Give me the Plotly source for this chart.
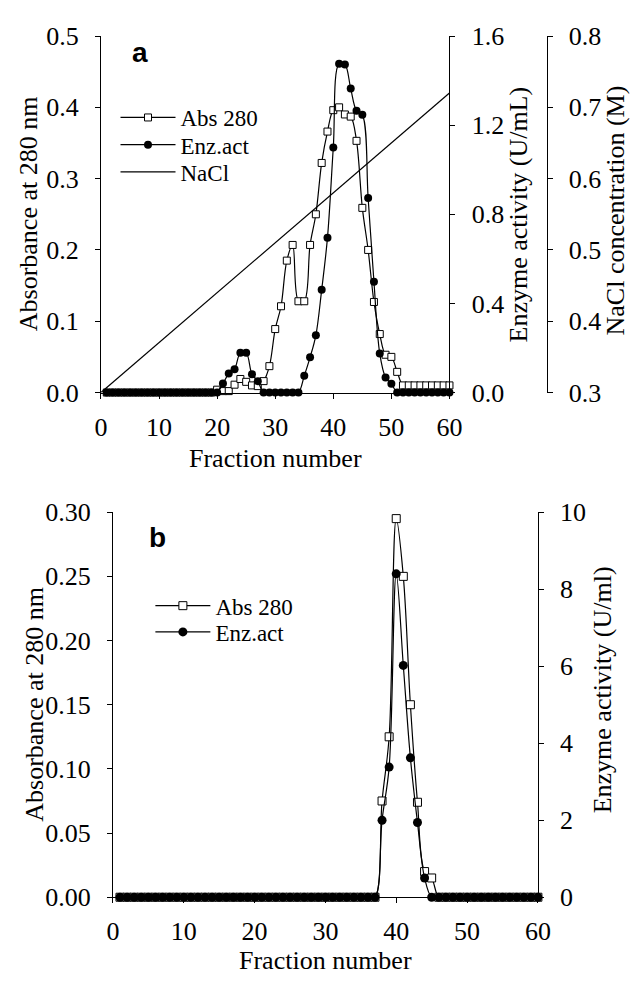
import plotly.graph_objects as go

# ---------------- data ----------------
fractions = list(range(1, 61))

# Panel a
abs_a = [0.0] * 19 + [
    0.004, 0.002, 0.002, 0.011, 0.019, 0.015, 0.010, 0.009, 0.016, 0.037,   # 20-29
    0.089, 0.121, 0.185, 0.207, 0.128, 0.128, 0.207, 0.250, 0.322, 0.366,   # 30-39
    0.396, 0.400, 0.390, 0.387, 0.353, 0.259, 0.200, 0.127, 0.082, 0.053,   # 40-49
    0.050, 0.029,                                                          # 50-51
] + [0.010] * 9                                                            # 52-60

enz_a = [0.0] * 20 + [
    0.040, 0.085, 0.105, 0.178, 0.178, 0.082, 0.051,                       # 21-27
    0.0, 0.0, 0.0, 0.0, 0.0, 0.0, 0.0,                                     # 28-34
    0.075, 0.158, 0.257, 0.461, 0.695, 1.100, 1.476, 1.472, 1.364, 1.265,  # 35-44
    1.247, 0.873, 0.497, 0.175, 0.068, 0.039,                              # 45-50
] + [0.0] * 10                                                             # 51-60

nacl_x = [0, 60]
nacl_y = [0.30, 0.72]

# Panel b
abs_b = [0.0] * 37 + [0.075, 0.125, 0.295, 0.250, 0.150, 0.074, 0.020, 0.015] + [0.0] * 15
enz_b = [0.0] * 37 + [2.00, 3.38, 8.40, 6.02, 3.62, 1.94, 0.50] + [0.0] * 16

x_ticks = [0, 10, 20, 30, 40, 50, 60]

# ---------------- styling ----------------
W, H = 641, 986
SERIF = "Liberation Serif"
SANS = "Liberation Sans"
TICK_FONT = dict(family=SERIF, size=26, color="black")
TITLE_SIZE = 26
LEG_SIZE = 23
LINE = dict(color="black", width=1.2, shape="spline")


def px_x(v):
    return v / W


def px_y(v):
    return 1 - v / H


fig = go.Figure()

# Panel a traces
fig.add_trace(go.Scatter(
    x=fractions, y=abs_a, name="Abs 280", mode="lines+markers",
    line=LINE, cliponaxis=False,
    marker=dict(symbol="square", size=7, color="white", line=dict(color="black", width=1)),
    xaxis="x", yaxis="y", legend="legend"))
fig.add_trace(go.Scatter(
    x=fractions, y=enz_a, name="Enz.act", mode="lines+markers",
    line=LINE, cliponaxis=False,
    marker=dict(symbol="circle", size=8, color="black"),
    xaxis="x", yaxis="y2", legend="legend2"))
fig.add_trace(go.Scatter(
    x=nacl_x, y=nacl_y, name="NaCl", mode="lines",
    line=dict(color="black", width=1.2), cliponaxis=False,
    xaxis="x", yaxis="y3", legend="legend3"))

# Panel b traces
fig.add_trace(go.Scatter(
    x=fractions, y=abs_b, name="Abs 280", mode="lines+markers",
    line=LINE, cliponaxis=False,
    marker=dict(symbol="square", size=8, color="white", line=dict(color="black", width=1)),
    xaxis="x2", yaxis="y4", legend="legend4"))
fig.add_trace(go.Scatter(
    x=fractions, y=enz_b, name="Enz.act", mode="lines+markers",
    line=LINE, cliponaxis=False,
    marker=dict(symbol="circle", size=9, color="black"),
    xaxis="x2", yaxis="y5", legend="legend5"))

axis_common = dict(showgrid=False, zeroline=False, showline=True, linecolor="black",
                   linewidth=1, ticks="outside", ticklen=5, tickwidth=1,
                   tickcolor="black", tickfont=TICK_FONT)
xaxis_common = dict(axis_common, ticklabelstandoff=6)
yaxis_common = dict(axis_common, ticklabelstandoff=11)

LEG_W = 55


def leg(line_start_px, row_px):
    # legend symbol line starts 5px inside the legend box; row centre is top + 21.5
    return dict(x=px_x(line_start_px - 5), y=px_y(row_px - 21.5),
                xanchor="left", yanchor="top",
                bgcolor="rgba(0,0,0,0)", borderwidth=0,
                font=dict(family=SERIF, size=LEG_SIZE, color="black"),
                itemwidth=LEG_W)


fig.update_layout(
    width=W, height=H,
    margin=dict(l=0, r=0, t=0, b=0),
    paper_bgcolor="white", plot_bgcolor="white",
    font=dict(family=SERIF, color="black"),
    showlegend=True,
    xaxis=dict(domain=[px_x(97), px_x(456.7)], range=[0, 60], tickvals=x_ticks,
               anchor="y", **xaxis_common),
    yaxis=dict(domain=[px_y(390), px_y(22.7)], range=[0, 0.5], dtick=0.1,
               tickformat=".1f", anchor="x", **yaxis_common),
    yaxis2=dict(overlaying="y", side="right", anchor="x", range=[0, 1.6], dtick=0.4,
                tickformat=".1f", **yaxis_common),
    yaxis3=dict(overlaying="y", side="right", anchor="free", position=px_x(557),
                range=[0.3, 0.8], dtick=0.1, tickformat=".1f", **yaxis_common),
    xaxis2=dict(domain=[px_x(109.3), px_x(548)], range=[0, 60], tickvals=x_ticks,
                anchor="y4", **xaxis_common),
    yaxis4=dict(domain=[px_y(910), px_y(513.3)], range=[0, 0.30], dtick=0.05,
                tickformat=".2f", anchor="x2", **yaxis_common),
    yaxis5=dict(overlaying="y4", side="right", anchor="x2", range=[0, 10], dtick=2,
                **yaxis_common),
    legend=leg(117, 106),
    legend2=leg(117, 134),
    legend3=leg(117, 162),
    legend4=leg(153, 609),
    legend5=leg(153, 636),
)

annos = [
    ("Absorbance at 280 nm", 23, 206, -90, SERIF, TITLE_SIZE),
    ("Enzyme activity (U/mL)", 528, 207, -90, SERIF, TITLE_SIZE),
    ("NaCl concentration (M)", 628, 202, -90, SERIF, TITLE_SIZE),
    ("Fraction number", 277, 458, 0, SERIF, TITLE_SIZE),
    ("Absorbance at 280 nm", 27.5, 711, -90, SERIF, TITLE_SIZE),
    ("Enzyme activity (U/ml)", 615, 696, -90, SERIF, TITLE_SIZE),
    ("Fraction number", 329, 975, 0, SERIF, TITLE_SIZE),
    ("<b>a</b>", 137, 40, 0, SANS, 28),
    ("<b>b</b>", 155, 539, 0, SANS, 28),
]
for text, x, y, ang, fam, size in annos:
    fig.add_annotation(text=text, x=px_x(x), y=px_y(y), xref="paper", yref="paper",
                       xanchor="center", yanchor="middle", textangle=ang,
                       showarrow=False, font=dict(family=fam, size=size, color="black"))

fig.write_html(
    "out.html",
    config={"displayModeBar": False},
    post_script="document.body.style.margin='0';document.body.style.overflow='hidden';",
)
